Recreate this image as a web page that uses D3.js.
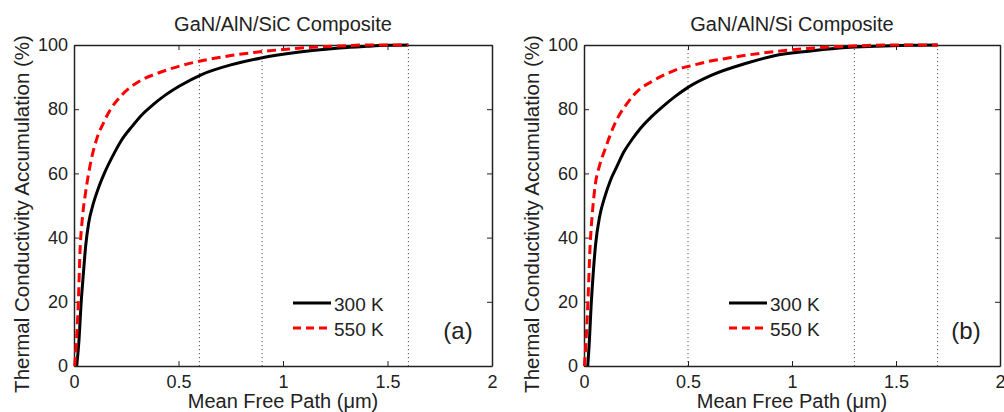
<!DOCTYPE html>
<html>
<head>
<meta charset="utf-8">
<script src="https://cdn.jsdelivr.net/npm/d3@7"></script>
<style>
  body { margin: 0; background: #fff; }
  text { font-family: "Liberation Sans", Arial, sans-serif; fill: #222; }
</style>
</head>
<body>
<svg id="chart" width="1004" height="412"></svg>
<script>
// mean free path (um) vs accumulated thermal conductivity (%)
var sicX300 = [0.013, 0.024, 0.033, 0.045, 0.056, 0.07, 0.092, 0.12, 0.145, 0.19, 0.228, 0.28, 0.324, 0.38, 0.435, 0.507, 0.611, 0.75, 0.89, 1.0, 1.14, 1.27, 1.4, 1.5, 1.6];
var sicY300 = [0, 8.1, 18.5, 28.9, 37.5, 44.5, 50.5, 56, 60, 66, 70.4, 74.8, 78.2, 81.5, 84.3, 87.3, 90.8, 93.8, 95.9, 97.1, 98.3, 99.1, 99.6, 99.9, 100];
var sicX550 = [0.003, 0.01, 0.02, 0.029, 0.04, 0.053, 0.07, 0.085, 0.11, 0.14, 0.175, 0.212, 0.26, 0.324, 0.4, 0.467, 0.611, 0.75, 0.89, 1.0, 1.14, 1.27, 1.4, 1.6];
var sicY550 = [0, 6, 18.5, 36, 46, 53, 60, 65, 71, 75.6, 80, 83.2, 86.3, 89.1, 91.2, 92.7, 95.1, 96.7, 97.9, 98.6, 99.3, 99.7, 100, 100];

var siX300 = [0.018, 0.026, 0.034, 0.045, 0.056, 0.075, 0.10, 0.127, 0.157, 0.19, 0.229, 0.275, 0.325, 0.38, 0.437, 0.5, 0.614, 0.78, 0.91, 1.10, 1.26, 1.4, 1.55, 1.7];
var siY300 = [0, 8, 18.5, 29.5, 38, 46.5, 52.7, 57.8, 62, 66.5, 70.4, 74.3, 77.7, 80.9, 83.9, 86.8, 90.6, 94.3, 96.6, 98.2, 99.2, 99.6, 99.9, 100];
var siX550 = [0.002, 0.009, 0.018, 0.029, 0.04, 0.053, 0.075, 0.10, 0.149, 0.213, 0.26, 0.325, 0.4, 0.46, 0.5, 0.6, 0.70, 0.8, 0.91, 1.05, 1.26, 1.5, 1.7];
var siY550 = [0, 7, 18.5, 37, 47.5, 55.9, 62.5, 67.3, 75.6, 82.3, 85.8, 88.6, 91.1, 92.7, 93.3, 94.9, 96, 97, 97.9, 98.8, 99.6, 100, 100];

var sicMarks = [0.6, 0.9, 1.6];
var siMarks = [0.5, 1.3, 1.7];

var xTicks = [0, 0.5, 1, 1.5, 2];
var yTicks = [0, 20, 40, 60, 80, 100];
var seriesNames = ["300 K", "550 K"];

var panels = [
  { title: "GaN/AlN/SiC Composite", tag: "(a)", left: 74, right: 492,
    x300: sicX300, y300: sicY300, x550: sicX550, y550: sicY550, marks: sicMarks, legendX: 293 },
  { title: "GaN/AlN/Si Composite", tag: "(b)", left: 584, right: 1000,
    x300: siX300, y300: siY300, x550: siX550, y550: siY550, marks: siMarks, legendX: 729 }
];

var plotTop = 45, plotBottom = 366;
var svg = d3.select("#chart");

panels.forEach(function (p) {
  var x = d3.scaleLinear().domain([0, 2]).range([p.left, p.right]);
  var y = d3.scaleLinear().domain([0, 100]).range([plotBottom, plotTop]);
  var g = svg.append("g");

  // dotted marker lines
  g.selectAll(".mark")
    .data(p.marks)
    .enter()
    .append("line")
    .attr("x1", function (d) { return x(d); })
    .attr("x2", function (d) { return x(d); })
    .attr("y1", plotTop)
    .attr("y2", plotBottom)
    .attr("stroke", "#555")
    .attr("stroke-width", 1)
    .attr("stroke-dasharray", "1.2,2.8");

  // axes with inward ticks (matlab style box)
  var xb = g.append("g").attr("transform", "translate(0," + plotBottom + ")")
    .call(d3.axisBottom(x).tickValues(xTicks).tickSizeInner(-5).tickSizeOuter(0).tickPadding(9).tickFormat(d3.format("")));
  var xt = g.append("g").attr("transform", "translate(0," + plotTop + ")")
    .call(d3.axisTop(x).tickValues(xTicks).tickSizeInner(-5).tickSizeOuter(0).tickFormat(""));
  var yl = g.append("g").attr("transform", "translate(" + p.left + ",0)")
    .call(d3.axisLeft(y).tickValues(yTicks).tickSizeInner(-5).tickSizeOuter(0).tickPadding(6));
  var yr = g.append("g").attr("transform", "translate(" + p.right + ",0)")
    .call(d3.axisRight(y).tickValues(yTicks).tickSizeInner(-5).tickSizeOuter(0).tickFormat(""));
  [xb, xt, yl, yr].forEach(function (a) {
    a.select(".domain").attr("stroke", "#222").attr("stroke-width", 1.5);
    a.selectAll(".tick line").attr("stroke", "#222");
    a.selectAll(".tick text").attr("font-size", 18).attr("fill", "#222")
      .attr("font-family", "Liberation Sans, Arial, sans-serif");
  });

  var line = d3.line()
    .x(function (d) { return x(d[0]); })
    .y(function (d) { return y(d[1]); })
    .curve(d3.curveMonotoneX);

  var d300 = p.x300.map(function (v, i) { return [v, p.y300[i]]; });
  var d550 = p.x550.map(function (v, i) { return [v, p.y550[i]]; });

  g.append("path").datum(d300).attr("d", line)
    .attr("fill", "none").attr("stroke", "#000").attr("stroke-width", 3);
  g.append("path").datum(d550).attr("d", line)
    .attr("fill", "none").attr("stroke", "#f00").attr("stroke-width", 3)
    .attr("stroke-dasharray", "9,5");

  // legend
  var lg = g.append("g").attr("transform", "translate(" + p.legendX + ",303)");
  lg.selectAll("line")
    .data(seriesNames)
    .enter()
    .append("line")
    .attr("x1", 0).attr("x2", 38)
    .attr("y1", function (d, i) { return i * 25; })
    .attr("y2", function (d, i) { return i * 25; })
    .attr("stroke", function (d, i) { return i == 0 ? "#000" : "#f00"; })
    .attr("stroke-width", 3)
    .attr("stroke-dasharray", function (d, i) { return i == 0 ? null : "8,5"; });
  lg.selectAll("text")
    .data(seriesNames)
    .enter()
    .append("text")
    .attr("x", 41)
    .attr("y", function (d, i) { return i * 25 + 8; })
    .attr("font-size", 19)
    .text(function (d) { return d; });

  g.append("text")
    .attr("x", p.right - 34)
    .attr("y", 339)
    .attr("text-anchor", "middle")
    .attr("font-size", 24)
    .text(p.tag);

  g.append("text")
    .attr("x", (p.left + p.right) / 2)
    .attr("y", 31)
    .attr("text-anchor", "middle")
    .attr("font-size", 20)
    .attr("fill", "#333")
    .text(p.title);

  g.append("text")
    .attr("x", (p.left + p.right) / 2)
    .attr("y", 408)
    .attr("text-anchor", "middle")
    .attr("font-size", 20)
    .text("Mean Free Path (\u03bcm)");

  g.append("text")
    .attr("transform", "translate(" + (p.left - 45) + ",214) rotate(-90)")
    .attr("text-anchor", "middle")
    .attr("font-size", 20.5)
    .text("Thermal Conductivity Accumulation (%)");
});
</script>
</body>
</html>
